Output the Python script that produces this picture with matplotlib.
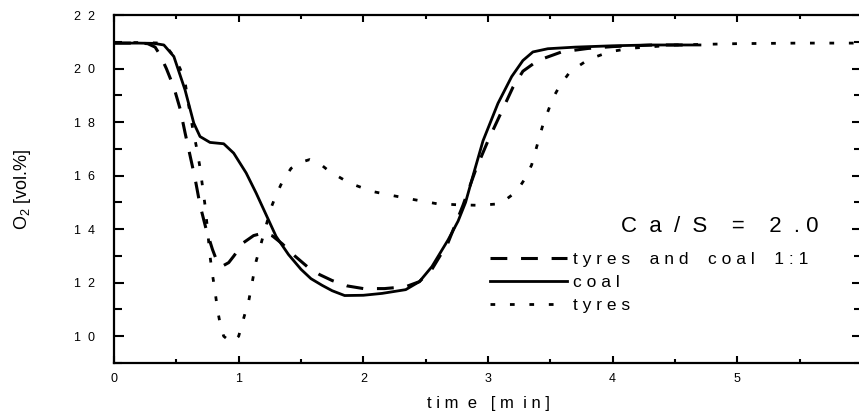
import numpy as np
import matplotlib
matplotlib.use('Agg')
import matplotlib.pyplot as plt
from matplotlib.ticker import MultipleLocator, FuncFormatter

# O2 concentration vs time, Ca/S = 2.0
coal_t = [0, 0.2, 0.32, 0.40, 0.48, 0.57, 0.64, 0.69, 0.77, 0.88, 0.96, 1.06, 1.14, 1.22, 1.30,
          1.40, 1.50, 1.58, 1.67, 1.75, 1.85, 2.0, 2.15, 2.34, 2.45, 2.55, 2.68, 2.76, 2.82, 2.88,
          2.96, 3.08, 3.19, 3.28, 3.36, 3.48, 3.7, 4.0, 4.3, 4.5, 4.70]
coal_o2 = [20.95, 20.95, 20.94, 20.88, 20.45, 19.2, 17.96, 17.46, 17.24, 17.19, 16.84, 16.1, 15.35, 14.54, 13.73,
           13.05, 12.5, 12.15, 11.9, 11.7, 11.52, 11.53, 11.6, 11.74, 12.04, 12.6, 13.6, 14.3, 15.0, 16.0,
           17.3, 18.7, 19.7, 20.3, 20.62, 20.74, 20.8, 20.85, 20.88, 20.88, 20.88]

mix_t = [0, 0.2, 0.27, 0.33, 0.37, 0.42, 0.48, 0.53, 0.57, 0.61, 0.65, 0.69, 0.74, 0.79, 0.83, 0.87,
         0.92, 0.96, 1.04, 1.12, 1.2, 1.27, 1.35, 1.45, 1.55, 1.65, 1.75, 1.87, 2.0, 2.17, 2.34, 2.45,
         2.55, 2.68, 2.8, 2.9, 3.0, 3.1, 3.2, 3.28, 3.4, 3.59, 3.8, 4.0, 4.33, 4.6]
mix_o2 = [20.95, 20.95, 20.93, 20.8, 20.5, 20.0, 19.3, 18.5, 17.6, 16.75, 15.9, 14.9, 13.98, 13.24, 12.75, 12.62,
          12.75, 12.99, 13.5, 13.76, 13.86, 13.75, 13.45, 13.0, 12.6, 12.3, 12.08, 11.88, 11.78, 11.78, 11.85, 12.04,
          12.5, 13.5, 14.9, 16.2, 17.3, 18.3, 19.3, 19.9, 20.3, 20.62, 20.75, 20.82, 20.88, 20.88]

tyre_t = [0, 0.2, 0.4, 0.48, 0.53, 0.57, 0.60, 0.63, 0.66, 0.69, 0.71, 0.73, 0.75, 0.77, 0.79, 0.81,
          0.83, 0.85, 0.88, 0.92, 0.96, 1.0, 1.03, 1.06, 1.08, 1.10, 1.12, 1.14, 1.17, 1.2, 1.26, 1.30,
          1.35, 1.42, 1.5, 1.57, 1.65, 1.73, 1.89, 2.07, 2.24, 2.41, 2.59, 2.76, 2.93, 3.1, 3.23, 3.30,
          3.35, 3.38, 3.41, 3.44, 3.48, 3.52, 3.58, 3.66, 3.81, 3.98, 4.15, 4.33, 4.5, 5.0, 5.5, 6.0]
tyre_o2 = [20.97, 20.97, 20.95, 20.45, 20.0, 19.5, 18.6, 17.8, 17.1, 16.3, 15.6, 14.9, 14.0, 13.0, 12.3, 11.7,
           11.0, 10.5, 10.0, 9.85, 9.8, 10.0, 10.5, 11.0, 11.3, 11.8, 12.3, 12.8, 13.3, 13.8, 14.8, 15.27,
           15.77, 16.27, 16.5, 16.6, 16.45, 16.15, 15.72, 15.41, 15.25, 15.1, 14.95, 14.91, 14.89, 14.95, 15.41, 15.91,
           16.4, 16.9, 17.4, 17.89, 18.39, 18.89, 19.39, 19.89, 20.35, 20.63, 20.76, 20.82, 20.88, 20.93, 20.95, 20.95]

labels = ['t y r e s    a n d    c o a l    1 : 1', 'c o a l', 't y r e s']

plt.rcParams['font.family'] = ['Liberation Sans', 'DejaVu Sans']
plt.rcParams['mathtext.fontset'] = 'custom'
plt.rcParams['mathtext.rm'] = 'Liberation Sans'
plt.rcParams['mathtext.it'] = 'Liberation Sans'

fig = plt.figure(figsize=(8.59, 4.19), dpi=100)
ax = fig.add_axes([114/859, 56/419, 748/859, 348/419])

ax.plot(mix_t, mix_o2, color='black', lw=2.2, dashes=(5.5, 4.5), label=labels[0])
ax.plot(coal_t, coal_o2, color='black', lw=2.0, label=labels[1])
ax.plot(tyre_t, tyre_o2, color='black', lw=2.0, dashes=(1.7, 5.3), label=labels[2])

ax.set_xlim(0, 6)
ax.set_ylim(9, 22)
ax.xaxis.set_major_locator(MultipleLocator(1))
ax.xaxis.set_minor_locator(MultipleLocator(0.5))
ax.yaxis.set_major_locator(MultipleLocator(2))
ax.yaxis.set_minor_locator(MultipleLocator(1))
ax.yaxis.set_major_formatter(FuncFormatter(lambda v, p: '  '.join(str(int(round(v))))))

for s in ax.spines.values():
    s.set_linewidth(1.6)

ax.tick_params(axis='both', which='both', direction='in', top=True, right=True, width=1.5)
ax.tick_params(axis='y', which='major', length=7, labelsize=9, pad=14)
ax.tick_params(axis='y', which='minor', length=6)
ax.tick_params(axis='x', which='major', length=5, labelsize=9, pad=7)
ax.tick_params(axis='x', which='minor', length=3)

ax.set_xlabel('t i m  e   [ m  i n ]', fontsize=12)
ax.xaxis.set_label_coords(0.5, -0.095)
ax.set_ylabel(r'O$_{2}$ [vol.%]', fontsize=13)
ax.yaxis.set_label_coords(-0.108, 0.5)

ax.text(5.65, 14.1, 'C  a  /  S    =    2  . 0', fontsize=16, ha='right', va='center')

ax.legend(loc='upper left', bbox_to_anchor=(0.503, 0.318), frameon=False, fontsize=12.5,
          handlelength=4.4, handletextpad=0.35, labelspacing=0.43, borderpad=0, borderaxespad=0)

fig.savefig('out.png', dpi=100)
